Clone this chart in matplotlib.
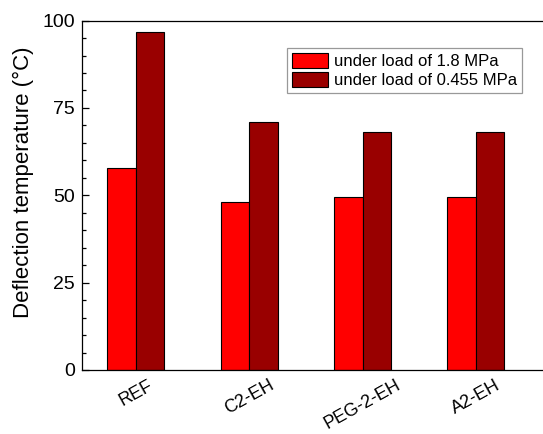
import numpy as np
import matplotlib
matplotlib.use('Agg')
import matplotlib.pyplot as plt
from matplotlib.ticker import MultipleLocator

plt.rcParams['font.family'] = ['Liberation Sans', 'DejaVu Sans']

# データ
samples = ['REF', 'C2-EH', 'PEG-2-EH', 'A2-EH']
load_18 = [57.8, 48.0, 49.5, 49.5]
load_0455 = [96.8, 70.9, 68.0, 68.0]
legend_labels = ['under load of 1.8 MPa', 'under load of 0.455 MPa']

fig = plt.figure(figsize=(5.43, 4.34), dpi=100)
ax = fig.add_axes([0.151, 0.1475, 0.849, 0.805])

x = np.arange(len(samples))
w = 0.252
ax.bar(x - w/2, load_18, w, color='#ff0000', edgecolor='black', linewidth=0.8,
       label=legend_labels[0])
ax.bar(x + w/2, load_0455, w, color='#990000', edgecolor='black', linewidth=0.8,
       label=legend_labels[1])

# 軸の設定
ax.set_xlim(-0.476, 3.593)
ax.set_ylim(0, 100)
ax.set_xticks(x)
ax.set_xticklabels(samples, rotation=29, ha='center', fontsize=13)
ax.tick_params(axis='x', length=0, pad=5)
ax.yaxis.set_major_locator(MultipleLocator(25))
ax.yaxis.set_minor_locator(MultipleLocator(5))
ax.tick_params(axis='y', which='major', direction='in', length=5, width=0.9,
               labelsize=14, pad=5)
ax.tick_params(axis='y', which='minor', direction='in', length=3, width=0.9)
ax.spines['right'].set_visible(False)
for s in ['left', 'top', 'bottom']:
    ax.spines[s].set_linewidth(0.9)

ax.set_ylabel('Deflection temperature (°C)', fontsize=16)
# ラベル位置は軸の中心より少し上
ax.yaxis.set_label_coords(-0.104, 0.537)

leg = ax.legend(loc='upper left', bbox_to_anchor=(0.445, 0.922), fontsize=12,
                frameon=True, fancybox=False, edgecolor='#808080',
                handlelength=2.15, handleheight=1.06, handletextpad=0.36,
                labelspacing=0.15, borderpad=0.3, borderaxespad=0)
leg.get_frame().set_linewidth(0.9)

plt.savefig('out.png', dpi=100)
plt.close()
